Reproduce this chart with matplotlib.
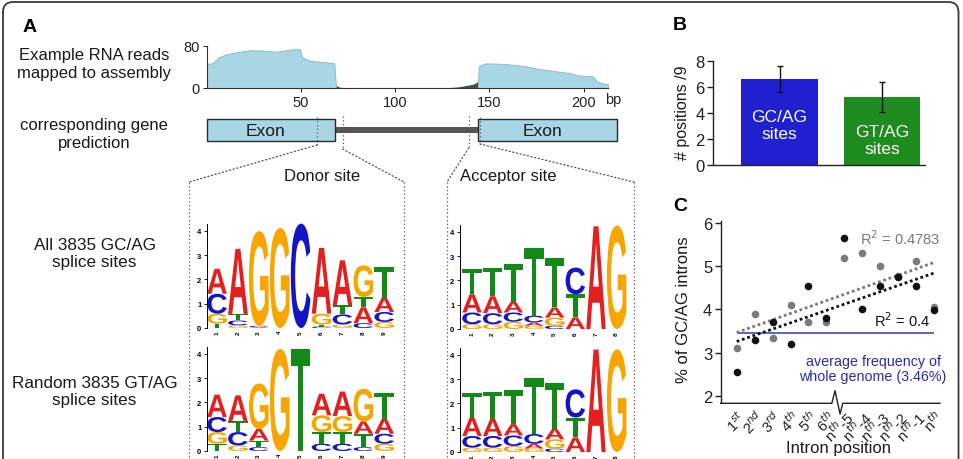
import numpy as np
import matplotlib
matplotlib.use("Agg")
import matplotlib.pyplot as plt
from matplotlib.patches import Rectangle, FancyBboxPatch, PathPatch, ConnectionPatch
from matplotlib.textpath import TextPath
from matplotlib.font_manager import FontProperties
import matplotlib.transforms as mtransforms

plt.rcParams['font.family'] = ['Liberation Sans', 'DejaVu Sans']

# ---------------- data ----------------
# A: RNA read coverage (bp, depth)
exon1_bp = [0, 3, 6, 10, 17, 24, 31, 37, 42, 46, 49.5, 50.5, 55, 60, 65.5, 67.6, 68.6]
exon1_depth = [46, 47, 58, 64, 69, 72, 71, 69, 72, 74, 74, 58, 52, 50, 48, 47, 0]
intron_bp = [67.5, 69, 70.5, 73, 80, 128, 133, 138, 141, 143, 144]
intron_depth = [8, 4, 1.5, 0.8, 0.6, 0.6, 2, 5, 7, 10, 14]
exon2_bp = [143.8, 144.4, 148, 158, 168, 177, 187, 192, 197, 202, 205, 207, 210, 213]
exon2_depth = [0, 42, 47, 46, 42, 36, 31, 29, 24, 23, 22, 13, 9, 7]
cov_xticks = [50, 100, 150, 200]
cov_yticks = [0, 80]

# gene prediction (bp)
exon_starts = [0, 144]
exon_ends = [68, 218]
donor_window_bp = [58.5, 72.0]
acceptor_window_bp = [139.0, 145.0]

# sequence logos: letters bottom->top and their heights (bits)
donor_gc_letters = ["TGCA", "GCTA", "ACG", "G", "C", "CTGA", "GCTA", "CATG", "GCAT"]
donor_gc_heights = [[0.18, 0.41, 0.82, 1.03], [0.11, 0.2, 0.27, 2.68], [0.04, 0.05, 3.9],
                    [4.12], [4.3], [0.06, 0.08, 0.45, 2.71], [0.15, 0.41, 0.37, 1.86],
                    [0.2, 0.65, 0.43, 1.3], [0.25, 0.41, 0.59, 1.27]]
donor_gt_letters = ["TGCA", "GCTA", "CTAG", "G", "T", "CTGA", "CTGA", "CTAG", "GCAT"]
donor_gt_heights = [[0.3, 0.48, 0.62, 0.92], [0.23, 0.55, 0.44, 1.07], [0.16, 0.27, 0.48, 1.87],
                    [4.2], [4.2], [0.3, 0.48, 0.69, 0.89], [0.3, 0.48, 0.66, 1.01],
                    [0.16, 0.55, 0.51, 1.34], [0.3, 0.41, 0.62, 1.05]]
acc_gc_letters = ["GCAT", "GCAT", "GCAT", "GACT", "CGAT", "ATC", "A", "G"]
acc_gc_heights = [[0.2, 0.48, 0.75, 1.05], [0.2, 0.45, 0.7, 1.18], [0.3, 0.38, 0.45, 1.53],
                  [0.13, 0.14, 0.28, 2.79], [0.13, 0.34, 0.42, 2.05], [0.48, 0.95, 1.1],
                  [4.23], [4.26]]
acc_gt_letters = ["GCAT", "GCAT", "GCAT", "GACT", "CGAT", "ATC", "A", "G"]
acc_gt_heights = [[0.18, 0.48, 0.75, 1.03], [0.18, 0.48, 0.7, 1.11], [0.25, 0.43, 0.47, 1.4],
                  [0.14, 0.2, 0.4, 2.29], [0.14, 0.38, 0.44, 1.89], [0.6, 0.82, 1.16],
                  [4.22], [4.22]]

# B: bar chart
b_labels = ["GC/AG\nsites", "GT/AG\nsites"]
b_values = [6.6, 5.2]
b_errors = [1.0, 1.15]

# C: scatter
c_ticklabels = [r"1$^{st}$", r"2$^{nd}$", r"3$^{rd}$", r"4$^{th}$", r"5$^{th}$", r"6$^{th}$",
                r"n$^{th}$-5", r"n$^{th}$-4", r"n$^{th}$-3", r"n$^{th}$-2", r"n$^{th}$-1", r"n$^{th}$"]
c_black = [2.56, 3.29, 3.72, 3.20, 4.55, 3.80, 5.65, 4.00, 4.55, 4.76, 4.55, 3.99]
c_gray = [3.11, 3.90, 3.33, 4.10, 3.72, 3.72, 5.20, 5.30, 5.00, 4.78, 5.13, 4.05]
genome_avg = 3.46

# ---------------- figure ----------------
W, H = 963, 460
fig = plt.figure(figsize=(W / 100, H / 100), dpi=100)


def add_ax_px(l, t, r, b):
    ax = fig.add_axes([l / W, 1 - b / H, (r - l) / W, (b - t) / H])
    ax.set_facecolor('none')
    return ax


canvas = fig.add_axes([0, 0, 1, 1])
canvas.set_xlim(0, W)
canvas.set_ylim(H, 0)
canvas.axis('off')

canvas.add_patch(FancyBboxPatch((3, 3), 955.5, 540, boxstyle="round,pad=0,rounding_size=10",
                                fill=False, ec='#3a3a3a', lw=1.3, clip_on=False))

TXT = '#1a1a1a'
canvas.text(30, 27, "A", fontsize=14, fontweight='bold', ha='center', va='center', color='black')
canvas.text(680, 25, "B", fontsize=14, fontweight='bold', ha='center', va='center', color='black')
canvas.text(680, 207, "C", fontsize=14, fontweight='bold', ha='center', va='center', color='black')

canvas.text(94, 64.5, "Example RNA reads\nmapped to assembly", fontsize=12, ha='center', va='center', color=TXT)
canvas.text(94, 134.5, "corresponding gene\nprediction", fontsize=12, ha='center', va='center', color=TXT)
canvas.text(94.5, 254, "All 3835 GC/AG\nsplice sites", fontsize=12.3, ha='center', va='center', color=TXT)
canvas.text(94.5, 392, "Random 3835 GT/AG\nsplice sites", fontsize=12.3, ha='center', va='center', color=TXT)
canvas.text(322, 177, "Donor site", fontsize=12, ha='center', va='center', color=TXT)
canvas.text(508, 177, "Acceptor site", fontsize=12, ha='center', va='center', color=TXT)

DOT = dict(color='#555555', lw=0.9, linestyle=(0, (1, 2)))
for xv in [189, 404, 447, 634]:
    canvas.plot([xv, xv], [183, 470], clip_on=False, **DOT)

# ---------------- coverage ----------------
cov = add_ax_px(207, 47, 608, 89)
cov.fill_between(intron_bp, intron_depth, color='#4a4a4a', lw=0)
cov.fill_between(exon1_bp, exon1_depth, facecolor='#a9d6e5', edgecolor='#86b4c6', lw=0.6)
cov.fill_between(exon2_bp, exon2_depth, facecolor='#a9d6e5', edgecolor='#86b4c6', lw=0.6)
cov.set_xlim(0, 213)
cov.set_ylim(0, 80)
for s in ['top', 'right']:
    cov.spines[s].set_visible(False)
for s in ['left', 'bottom']:
    cov.spines[s].set_color('#333333')
    cov.spines[s].set_linewidth(0.8)
cov.set_xticks(cov_xticks)
cov.set_yticks(cov_yticks)
cov.tick_params(labelsize=10.5, colors='#222222', length=3, width=0.7, pad=2)
canvas.text(613, 100, "bp", fontsize=10.5, ha='center', va='center', color='#222222')

# ---------------- gene model ----------------
gene = add_ax_px(207, 110, 608, 155)
gene.set_xlim(0, 213)
gene.set_ylim(45, 0)
gene.axis('off')
gene.add_patch(Rectangle((exon_ends[0], 18), exon_starts[1] - exon_ends[0], 6, color='#555555', lw=0))
for s0, e0 in zip(exon_starts, exon_ends):
    gene.add_patch(Rectangle((s0, 10), e0 - s0, 22, facecolor='#a9d6e5', edgecolor='#2a2a2a',
                             lw=1.0, clip_on=False))
    gene.text((s0 + e0) / 2 - 3, 21.5, "Exon", fontsize=12.5, ha='center', va='center', color=TXT)

win_ends = {donor_window_bp[0]: (8, 36, (189, 183)), donor_window_bp[1]: (7, 40, (404, 183)),
            acceptor_window_bp[0]: (7, 39, (447, 183)), acceptor_window_bp[1]: (8, 35, (634, 183))}
for bp, (y0, y1, target) in win_ends.items():
    gene.plot([bp, bp], [y0, y1], clip_on=False, **DOT)
    con = ConnectionPatch(xyA=(bp, y1), coordsA=gene.transData, xyB=target, coordsB=canvas.transData,
                          arrowstyle='-', **DOT)
    fig.add_artist(con)

# ---------------- logos ----------------
LFP = FontProperties(family='Liberation Sans', weight='bold')
LCOL = {'A': '#e3201f', 'C': '#1515c8', 'G': '#f8a500', 'T': '#138a18'}


def draw_letter(ax, ch, x, y0, h, width=0.94):
    tp = TextPath((0, 0), ch, size=1, prop=LFP)
    bb = tp.get_extents()
    t = mtransforms.Affine2D().translate(-bb.x0, -bb.y0).scale(width / bb.width, h / bb.height) \
        .translate(x - width / 2, y0)
    ax.add_patch(PathPatch(t.transform_path(tp), facecolor=LCOL[ch], edgecolor='none'))


def draw_logo(box, xlim, letters, heights):
    ax = add_ax_px(*box)
    for i, (lets, hs) in enumerate(zip(letters, heights)):
        y = 0.0
        for ch, h in zip(lets, hs):
            if h > 0.02:
                draw_letter(ax, ch, i + 1, y, h)
            y += h
    n = len(letters)
    ax.set_xlim(*xlim)
    ax.set_ylim(0, 4.45)
    for s in ['top', 'right', 'bottom']:
        ax.spines[s].set_visible(False)
    ax.spines['left'].set_linewidth(0.7)
    ax.spines['left'].set_bounds(0, 4.3)
    ax.set_yticks([0, 1, 2, 3, 4])
    ax.set_xticks(np.arange(1, n + 1))
    ax.set_xticklabels([str(k) for k in range(1, n + 1)], rotation=90, fontsize=4.5, fontweight='bold')
    ax.tick_params(axis='y', labelsize=5.5, length=2.5, width=0.6, pad=1.5)
    ax.tick_params(axis='x', length=0, pad=1.5)
    for lab in ax.get_yticklabels():
        lab.set_fontweight('bold')
    return ax


draw_logo((207, 221, 394.7, 329), (0.52, 9.5), donor_gc_letters, donor_gc_heights)
draw_logo((207, 344, 394.7, 452), (0.52, 9.5), donor_gt_letters, donor_gt_heights)
draw_logo((460, 222, 627, 330), (0.42, 8.5), acc_gc_letters, acc_gc_heights)
draw_logo((460, 345, 627, 453), (0.42, 8.5), acc_gt_letters, acc_gt_heights)

# ---------------- B ----------------
axb = add_ax_px(713, 62, 925, 166)
xb = np.arange(len(b_values))
axb.bar(xb, b_values, width=0.75, color=['#2020d0', '#1e8c1e'], yerr=b_errors,
        error_kw=dict(ecolor='#111111', elinewidth=1.0, capsize=2.5, capthick=1.0))
axb.set_xlim(-0.65, 1.42)
axb.set_ylim(0, 8)
axb.set_yticks([0, 2, 4, 6, 8])
axb.set_xticks([])
for s in ['top', 'right']:
    axb.spines[s].set_visible(False)
for s in ['left', 'bottom']:
    axb.spines[s].set_linewidth(1.0)
    axb.spines[s].set_color('#222222')
axb.tick_params(axis='y', labelsize=12, length=4, width=1.0, pad=2, colors='#222222')
axb.text(0, 3.08, b_labels[0], color='white', fontsize=12.5, ha='center', va='center', linespacing=1.1)
axb.text(1, 1.92, b_labels[1], color='white', fontsize=12.5, ha='center', va='center', linespacing=1.1)
canvas.text(682, 113, "# positions /9", rotation=90, fontsize=11.5, ha='center', va='center', color=TXT)

# ---------------- C ----------------
axc = add_ax_px(720.7, 222.3, 940, 404.3)
xc = np.arange(1, len(c_black) + 1)
axc.scatter(xc, c_gray, s=30, color='#7a7a7a', zorder=3, lw=0)
axc.scatter(xc, c_black, s=30, color='#111111', zorder=4, lw=0)
for ys, col in [(c_gray, '#7a7a7a'), (c_black, '#111111')]:
    k, b = np.polyfit(xc, ys, 1)
    xx = np.array([xc[0], xc[-1]])
    axc.plot(xx, k * xx + b, color=col, lw=2.0, linestyle=(0, (1, 1)), zorder=2)
axc.hlines(genome_avg, xc[0], xc[-1], color='#3535b5', lw=1.1, zorder=1)
axc.set_xlim(0.108, 12.33)
axc.set_ylim(1.824, 6.046)
axc.set_yticks([2, 3, 4, 5, 6])
for s in ['top', 'right', 'bottom']:
    axc.spines[s].set_visible(False)
axc.spines['left'].set_linewidth(1.0)
axc.spines['left'].set_color('#222222')
axc.tick_params(axis='y', labelsize=12, length=4, width=1.0, pad=2, colors='#222222')
axc.set_xticks(xc)
axc.set_xticklabels(c_ticklabels, rotation=45, ha='right', va='top', rotation_mode='anchor',
                    fontsize=10.5, color='#222222')
axc.tick_params(axis='x', length=0, pad=3)
# broken x axis line
brk = mtransforms.blended_transform_factory(axc.transData, axc.transAxes)
axc.plot([0.108, 6.30, 6.48, 6.76, 6.91, 12.33], [0, 0, 0.069, -0.059, 0, 0], color='#222222',
         lw=1.0, transform=brk, clip_on=False)
axc.text(12.33, 5.66, r"R$^2$ = 0.4783", color='#7a7a7a', fontsize=10.5, ha='right', va='center')
axc.text(11.77, 3.77, r"R$^2$ = 0.4", color='#111111', fontsize=10.5, ha='right', va='center')
axc.text(8.6, 2.63, "average frequency of\nwhole genome (3.46%)", color='#2a2ab0', fontsize=10.3,
         ha='center', va='center', linespacing=1.15)
canvas.text(683, 310, "% of GC/AG introns", rotation=90, fontsize=12, ha='center', va='center', color=TXT)
canvas.text(838, 449, "Intron position", fontsize=12, ha='center', va='center', color=TXT)

fig.savefig("out.png", dpi=100)
